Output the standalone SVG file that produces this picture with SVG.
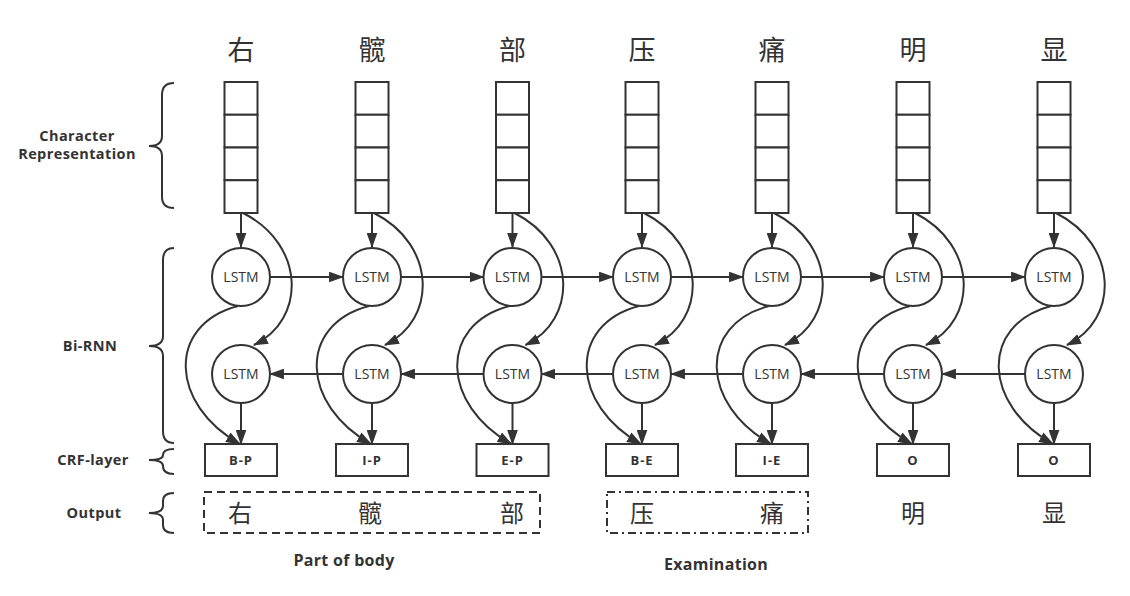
<svg xmlns="http://www.w3.org/2000/svg" width="1130" height="596" viewBox="0 0 1130 596">
<defs>
<marker id="ah" viewBox="0 0 14 10" refX="13" refY="5" markerWidth="15" markerHeight="11" markerUnits="userSpaceOnUse" orient="auto">
<path d="M0,0 L14,5 L0,10 Z" fill="#333"/>
</marker>
<style>
.ln{fill:none;stroke:#333;stroke-width:2}
.ar{fill:none;stroke:#333;stroke-width:2;marker-end:url(#ah)}
.box{fill:#fff;stroke:#333;stroke-width:2}
.cell{fill:#fff;stroke:#333;stroke-width:2}
.lstm{fill:#fff;stroke:#333;stroke-width:2}
.lt{font-family:"Open Sans","Noto Sans",sans-serif;font-size:14px;fill:#333;text-anchor:middle}
.tag{font-family:"Open Sans","Noto Sans",sans-serif;font-size:13px;font-weight:bold;fill:#333;text-anchor:middle;letter-spacing:1px}
.lab{font-family:"Open Sans","Noto Sans",sans-serif;font-size:14.5px;font-weight:bold;fill:#333;text-anchor:middle;letter-spacing:0.4px}
.cap{font-family:"Open Sans","Noto Sans",sans-serif;font-size:16px;font-weight:bold;fill:#333;text-anchor:middle;letter-spacing:0.3px}
.zh{font-family:"Noto Sans CJK SC","Noto Sans",sans-serif;font-size:27px;fill:#333;text-anchor:middle}
.zo{font-family:"Noto Sans CJK SC","Noto Sans",sans-serif;font-size:24px;fill:#333;text-anchor:middle}
</style>
<g id="col">
<rect class="cell" x="-16.5" y="82" width="33" height="32.75"/>
<rect class="cell" x="-16.5" y="114.75" width="33" height="32.75"/>
<rect class="cell" x="-16.5" y="147.5" width="33" height="32.75"/>
<rect class="cell" x="-16.5" y="180.25" width="33" height="32.75"/>
</g>
</defs>
<rect width="1130" height="596" fill="#fff"/>

<!-- left labels and braces -->
<g id="labels">
<text class="lab" x="77" y="141">Character</text>
<text class="lab" x="77" y="159">Representation</text>
<text class="lab" x="90" y="351">Bi-RNN</text>
<text class="lab" x="93" y="465">CRF-layer</text>
<text class="lab" x="94" y="518">Output</text>
<path class="ln" d="M174 83 Q162 83 162 95 L162 136 Q162 146 149 146 Q162 146 162 156 L162 197 Q162 208 174 208"/>
<path class="ln" d="M174 248 Q163 248 163 260 L163 336 Q163 346 149 346 Q163 346 163 356 L163 431 Q163 443 174 443"/>
<path class="ln" d="M174 449 Q163 449 163 455 Q163 460 149 460 Q163 460 163 466 Q163 474 174 474"/>
<path class="ln" d="M174 493 Q163 493 163 501 L163 506 Q163 513 149 513 Q163 513 163 520 L163 525 Q163 533 174 533"/>
</g>

<!-- connectors -->
<g id="connectors">
<!-- vertical straight arrows -->
<path class="ar" d="M241 213 V247"/><path class="ar" d="M241 403 V444"/>
<path class="ar" d="M372 213 V247"/><path class="ar" d="M372 403 V444"/>
<path class="ar" d="M512.5 213 V247"/><path class="ar" d="M512.5 403 V444"/>
<path class="ar" d="M642 213 V247"/><path class="ar" d="M642 403 V444"/>
<path class="ar" d="M772 213 V247"/><path class="ar" d="M772 403 V444"/>
<path class="ar" d="M913 213 V247"/><path class="ar" d="M913 403 V444"/>
<path class="ar" d="M1054 213 V247"/><path class="ar" d="M1054 403 V444"/>
<!-- right curves: char box to backward LSTM -->
<path class="ar" d="M243 213 C306 245 306 320 254 345"/>
<path class="ar" d="M374 213 C437 245 437 320 385 345"/>
<path class="ar" d="M514.5 213 C577.5 245 577.5 320 525.5 345"/>
<path class="ar" d="M644 213 C707 245 707 320 655 345"/>
<path class="ar" d="M774 213 C837 245 837 320 785 345"/>
<path class="ar" d="M915 213 C978 245 978 320 926 345"/>
<path class="ar" d="M1056 213 C1119 245 1119 320 1067 345"/>
<!-- left curves: forward LSTM to CRF -->
<path class="ar" d="M238 306 C166 325 170 405 240 444"/>
<path class="ar" d="M369 306 C297 325 301 405 371 444"/>
<path class="ar" d="M509.5 306 C437.5 325 441.5 405 511.5 444"/>
<path class="ar" d="M639 306 C567 325 571 405 641 444"/>
<path class="ar" d="M769 306 C697 325 701 405 771 444"/>
<path class="ar" d="M910 306 C838 325 842 405 912 444"/>
<path class="ar" d="M1051 306 C979 325 983 405 1053 444"/>
<!-- forward horizontal -->
<path class="ar" d="M270 277 H343"/>
<path class="ar" d="M401 277 H483.5"/>
<path class="ar" d="M541.5 277 H613"/>
<path class="ar" d="M671 277 H743"/>
<path class="ar" d="M801 277 H884"/>
<path class="ar" d="M942 277 H1025"/>
<!-- backward horizontal -->
<path class="ar" d="M343 374 H270"/>
<path class="ar" d="M483.5 374 H401"/>
<path class="ar" d="M613 374 H541.5"/>
<path class="ar" d="M743 374 H671"/>
<path class="ar" d="M884 374 H801"/>
<path class="ar" d="M1025 374 H942"/>
</g>

<g id="n1">
<text class="zh" x="241" y="60">右</text>
<use href="#col" x="241"/>
<circle class="lstm" cx="241" cy="277" r="29"/><text class="lt" x="241" y="282">LSTM</text>
<circle class="lstm" cx="241" cy="374" r="29"/><text class="lt" x="241" y="379">LSTM</text>
<rect class="box" x="205" y="444" width="72" height="32"/><text class="tag" x="241" y="465">B-P</text>
</g>
<g id="n2">
<text class="zh" x="372" y="60">髋</text>
<use href="#col" x="372"/>
<circle class="lstm" cx="372" cy="277" r="29"/><text class="lt" x="372" y="282">LSTM</text>
<circle class="lstm" cx="372" cy="374" r="29"/><text class="lt" x="372" y="379">LSTM</text>
<rect class="box" x="336" y="444" width="72" height="32"/><text class="tag" x="372" y="465">I-P</text>
</g>
<g id="n3">
<text class="zh" x="512.5" y="60">部</text>
<use href="#col" x="512.5"/>
<circle class="lstm" cx="512.5" cy="277" r="29"/><text class="lt" x="512.5" y="282">LSTM</text>
<circle class="lstm" cx="512.5" cy="374" r="29"/><text class="lt" x="512.5" y="379">LSTM</text>
<rect class="box" x="476.5" y="444" width="72" height="32"/><text class="tag" x="512.5" y="465">E-P</text>
</g>
<g id="n4">
<text class="zh" x="642" y="60">压</text>
<use href="#col" x="642"/>
<circle class="lstm" cx="642" cy="277" r="29"/><text class="lt" x="642" y="282">LSTM</text>
<circle class="lstm" cx="642" cy="374" r="29"/><text class="lt" x="642" y="379">LSTM</text>
<rect class="box" x="606" y="444" width="72" height="32"/><text class="tag" x="642" y="465">B-E</text>
</g>
<g id="n5">
<text class="zh" x="772" y="60">痛</text>
<use href="#col" x="772"/>
<circle class="lstm" cx="772" cy="277" r="29"/><text class="lt" x="772" y="282">LSTM</text>
<circle class="lstm" cx="772" cy="374" r="29"/><text class="lt" x="772" y="379">LSTM</text>
<rect class="box" x="736" y="444" width="72" height="32"/><text class="tag" x="772" y="465">I-E</text>
</g>
<g id="n6">
<text class="zh" x="913" y="60">明</text>
<use href="#col" x="913"/>
<circle class="lstm" cx="913" cy="277" r="29"/><text class="lt" x="913" y="282">LSTM</text>
<circle class="lstm" cx="913" cy="374" r="29"/><text class="lt" x="913" y="379">LSTM</text>
<rect class="box" x="877" y="444" width="72" height="32"/><text class="tag" x="913" y="465">O</text>
</g>
<g id="n7">
<text class="zh" x="1054" y="60">显</text>
<use href="#col" x="1054"/>
<circle class="lstm" cx="1054" cy="277" r="29"/><text class="lt" x="1054" y="282">LSTM</text>
<circle class="lstm" cx="1054" cy="374" r="29"/><text class="lt" x="1054" y="379">LSTM</text>
<rect class="box" x="1018" y="444" width="72" height="32"/><text class="tag" x="1054" y="465">O</text>
</g>

<g id="output">
<rect x="204" y="492" width="336" height="41" fill="none" stroke="#333" stroke-width="2" stroke-dasharray="8,5"/>
<rect x="607" y="492" width="201" height="41" fill="none" stroke="#333" stroke-width="2" stroke-dasharray="8,4,2,4"/>
<text class="zo" x="240" y="522">右</text>
<text class="zo" x="370" y="522">髋</text>
<text class="zo" x="512" y="522">部</text>
<text class="zo" x="642" y="522">压</text>
<text class="zo" x="772" y="522">痛</text>
<text class="zo" x="913" y="522">明</text>
<text class="zo" x="1054" y="522">显</text>
<text class="cap" x="344" y="566">Part of body</text>
<text class="cap" x="716" y="570">Examination</text>
</g>
</svg>
